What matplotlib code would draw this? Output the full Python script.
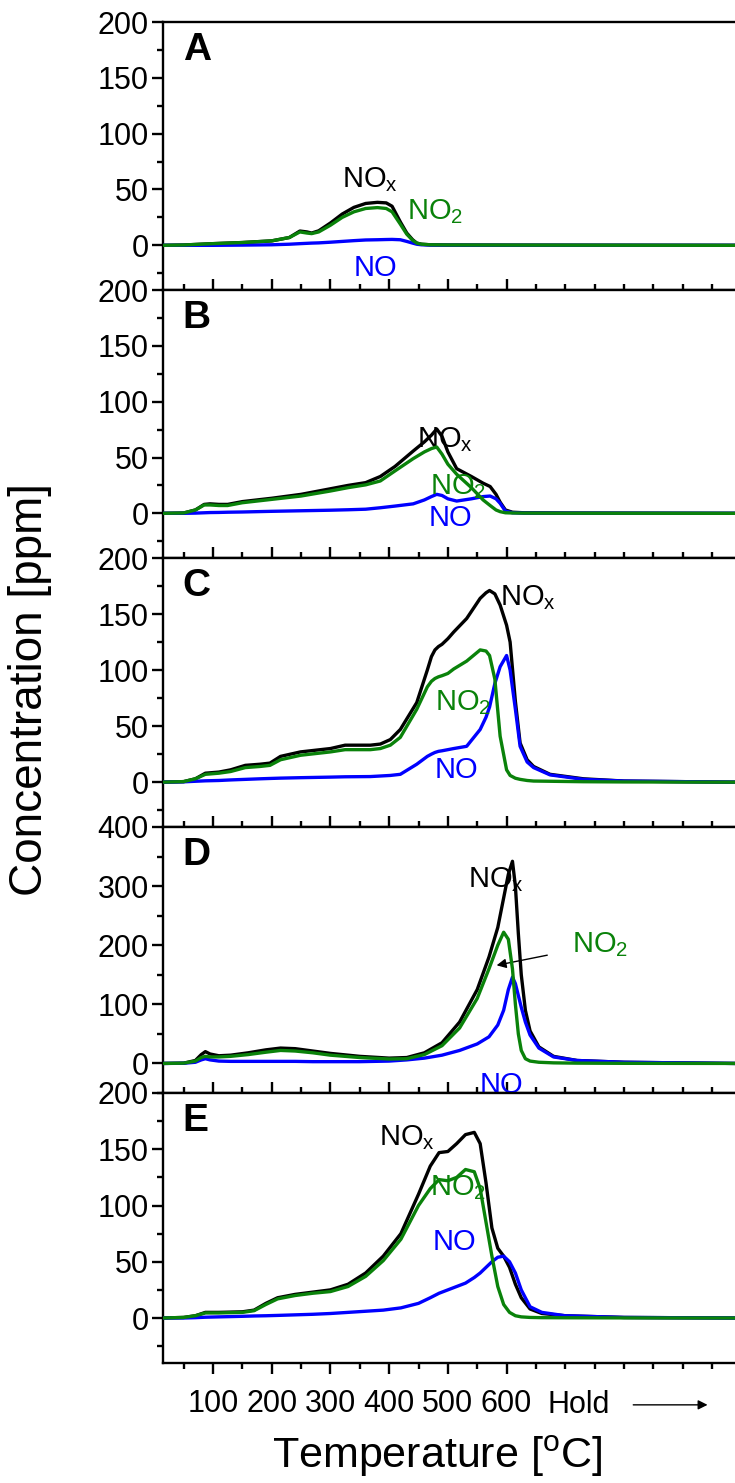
import matplotlib
matplotlib.use("Agg")
import matplotlib.pyplot as plt
import numpy as np

plt.rcParams['font.family'] = ['Liberation Sans', 'DejaVu Sans']
plt.rcParams['mathtext.fontset'] = 'custom'
plt.rcParams['mathtext.rm'] = 'Liberation Sans'
plt.rcParams['mathtext.it'] = 'Liberation Sans'

# ---- Panel A ----
temp_a = [14, 50, 100, 150, 200, 230, 248, 260, 268, 280, 300, 320, 340, 360, 380,
          395, 405, 419, 430, 440, 447, 455, 470, 500, 600, 800, 989]
nox_a = [0, 0.3, 1.5, 2.5, 4, 7, 12.8, 12, 11, 13, 20, 28, 34, 37.5, 38.5,
         38, 35, 21, 11, 5, 2, 1, 0.5, 0.3, 0.2, 0.1, 0]
no2_a = [0, 0.3, 1.5, 2.5, 4, 7, 12, 11, 10.5, 12, 18, 25, 30, 33, 33.8,
         33, 30, 19, 10, 4.5, 2, 1, 0.5, 0.3, 0.2, 0.1, 0]
no_a = [0, 0, 0, 0.2, 0.5, 1, 1.5, 1.8, 2, 2.2, 2.8, 3.5, 4.2, 4.8, 5,
        5.2, 5.3, 5, 3.5, 2, 1, 0.5, 0.2, 0.1, 0, 0, 0]

# ---- Panel B ----
temp_b = [14, 50, 70, 85, 95, 110, 125, 150, 200, 250, 300, 330, 360, 385, 410,
          441, 460, 472, 481, 490, 500, 515, 540, 560, 572, 582, 589, 598, 610,
          630, 700, 989]
nox_b = [0, 0.3, 3, 8, 8.5, 8, 8, 10.5, 13.5, 17, 22, 25, 27.5, 33, 42,
         55.8, 64, 70, 75.5, 69, 55, 40, 33, 27, 24, 17, 10, 3, 1,
         0.5, 0.3, 0]
no2_b = [0, 0.3, 3, 7.5, 7.5, 7, 7, 9.5, 12.5, 15.5, 20, 23, 25.5, 29, 38,
         49, 55, 58, 59.4, 53, 44, 35, 23, 12, 7, 3, 1.5, 0.5, 0.3,
         0.2, 0.1, 0]
no_b = [0, 0, 0.2, 0.5, 0.7, 0.8, 1, 1.2, 1.8, 2.3, 2.8, 3.2, 3.7, 5, 6.5,
        8.5, 12, 15, 17, 16, 13, 11, 13, 15, 15.5, 13, 9, 2, 0.5,
        0.2, 0.1, 0]

# ---- Panel C ----
temp_c = [14, 50, 70, 87, 110, 130, 155, 180, 197, 215, 249, 300, 325, 368, 385,
          402, 419, 447, 465, 472, 478, 484, 490, 500, 510, 532, 555, 565, 571,
          580, 589, 600, 606, 615, 623, 635, 646, 674, 731, 800, 989]
nox_c = [0, 0.5, 3, 8, 9, 11, 15, 16, 17, 23, 27, 30, 33, 33, 34,
         38, 47, 71, 100, 112, 118, 121, 123, 128, 134, 146, 164, 169, 171,
         168, 158, 140, 125, 72, 35, 20, 14, 7, 3, 1, 0]
no2_c = [0, 0.5, 3, 7, 8, 9.5, 13, 14, 15, 20, 24, 27, 29, 29, 30,
         33, 40, 65, 85, 90, 92.5, 94, 95, 97, 101, 108, 118, 117, 113,
         92, 41, 11, 6, 3.5, 2.5, 1.5, 1, 0.8, 0.4, 0.2, 0]
no_c = [0, 0.3, 0.8, 1.2, 1.5, 2, 2.5, 3, 3.3, 3.6, 4, 4.5, 4.8, 5, 5.5,
        6, 7, 16, 23, 25, 26.5, 27.5, 28, 29, 30, 32, 47, 58, 67,
        88, 103, 113, 100, 65, 32, 18, 13, 6.5, 2.5, 1, 0]

# ---- Panel D ----
temp_d = [14, 50, 70, 80, 87, 95, 110, 130, 160, 190, 215, 240, 270, 300, 350,
          400, 430, 460, 490, 520, 550, 570, 585, 595, 603, 610, 615, 620, 625,
          632, 640, 655, 680, 720, 800, 989]
nox_d = [0, 0.5, 5, 15, 20, 16, 13, 14, 18, 23, 26, 25, 21, 17, 12,
         9, 10, 18, 35, 70, 125, 180, 230, 280, 320, 342, 300, 220, 150,
         90, 55, 28, 12, 5, 2, 0]
no2_d = [0, 0.5, 4, 10, 12, 11, 11, 12, 15, 19, 22, 21, 18, 14, 10,
         7.5, 8, 15, 30, 60, 110, 160, 200, 222, 210, 160, 100, 50, 22,
         8, 4, 2, 1, 0.5, 0.2, 0]
no_d = [0, 0.3, 2, 6, 8, 6, 4, 3.5, 3.5, 3.5, 3.5, 3.5, 3, 3, 3,
        4, 6, 9, 14, 22, 33, 45, 65, 90, 125, 146, 135, 115, 95,
        70, 48, 26, 11, 5, 2, 0]

# ---- Panel E ----
temp_e = [14, 50, 70, 87, 110, 150, 170, 190, 210, 240, 270, 300, 330, 360, 390,
          420, 450, 470, 485, 500, 515, 530, 545, 555, 565, 575, 585, 595, 605,
          615, 625, 640, 660, 700, 800, 989]
nox_e = [0, 0.5, 2, 5, 5, 5.5, 7, 13, 18, 21, 23, 25, 30, 40, 55,
         75, 110, 135, 147, 148, 155, 163, 165, 155, 120, 80, 62, 55, 45,
         30, 18, 8, 4, 2, 0.5, 0]
no2_e = [0, 0.5, 2, 4.5, 4.5, 5, 6.5, 12, 17, 20, 22, 23.5, 28, 37, 51,
         70, 100, 115, 123, 122, 125, 132, 130, 115, 85, 55, 28, 12, 5,
         2, 1, 0.5, 0.3, 0.2, 0.1, 0]
no_e = [0, 0, 0.3, 0.7, 1, 1.5, 1.8, 2, 2.3, 2.8, 3.3, 4, 5, 6, 7,
        9, 13, 18, 22, 25, 28, 31, 36, 40, 45, 50, 54, 55, 50,
        40, 25, 10, 5, 2, 0.5, 0]

panels = [
    ("A", temp_a, nox_a, no2_a, no_a, (-40, 200), 50),
    ("B", temp_b, nox_b, no2_b, no_b, (-40, 200), 50),
    ("C", temp_c, nox_c, no2_c, no_c, (-40, 200), 50),
    ("D", temp_d, nox_d, no2_d, no_d, (-50, 400), 100),
    ("E", temp_e, nox_e, no2_e, no_e, (-40, 200), 50),
]

# curve label positions (temperature, concentration) per panel
label_pos = {
    "A": {"nox": (367, 59), "no2": (478, 30), "no": (376, -20)},
    "B": {"nox": (495, 66), "no2": (517, 24), "no": (504, -4)},
    "C": {"nox": (636, 165), "no2": (526, 71), "no": (514, 11)},
    "D": {"nox": (582, 311), "no2": (759, 201), "no": (592, -36)},
    "E": {"nox": (430, 160), "no2": (518, 116), "no": (512, 68)},
}

BLACK = "#000000"
GREEN = "#0a820a"
BLUE = "#0000ff"
LW = 2.4

x_major = [100, 200, 300, 400, 500, 600]
x_minor = [50, 150, 250, 350, 450, 550, 650, 700, 750, 800, 850, 900, 950]
xlim = (14, 989)

fig = plt.figure(figsize=(7.35, 14.83), dpi=100)
H = 1483.0
W = 735.0
left_px = 162.5
bounds = [22, 290, 558, 827, 1093, 1363]

axes = []
for i, (name, t, nox, no2, no, ylim, ystep) in enumerate(panels):
    top, bot = bounds[i], bounds[i + 1]
    ax = fig.add_axes([left_px / W, 1 - bot / H, 1 - left_px / W, (bot - top) / H])
    axes.append(ax)
    ax.plot(t, no, color=BLUE, lw=LW, zorder=3, solid_joinstyle="round")
    ax.plot(t, no2, color=GREEN, lw=LW, zorder=4, solid_joinstyle="round")
    ax.plot(t, nox, color=BLACK, lw=LW, zorder=2, solid_joinstyle="round")
    ax.set_xlim(*xlim)
    ax.set_ylim(*ylim)
    ax.set_yticks(np.arange(0, ylim[1] + 1, ystep))
    ax.set_yticks(np.arange(-ystep / 2, ylim[1], ystep / 2), minor=True)
    ax.set_xticks(x_major)
    ax.set_xticks(x_minor, minor=True)
    for s in ("left", "bottom", "top"):
        ax.spines[s].set_linewidth(1.7)
    ax.spines["right"].set_visible(False)
    ax.tick_params(axis="y", which="major", direction="out", length=8, width=1.7,
                   labelsize=22, pad=2)
    ax.tick_params(axis="y", which="minor", direction="out", length=4.5, width=1.7)
    last = (i == len(panels) - 1)
    ax.tick_params(axis="x", which="major", direction="out" if last else "in",
                   length=8, width=1.7, labelsize=22, pad=11,
                   labelbottom=last)
    ax.tick_params(axis="x", which="minor", direction="out" if last else "in",
                   length=4.5, width=1.7)
    ax.text(0.035, 0.895, name, transform=ax.transAxes, fontsize=28,
            fontweight="bold", ha="left", va="center")

    lp = label_pos[name]
    ax.text(*lp["nox"], r"$\mathregular{NO_x}$", color=BLACK, fontsize=21,
            ha="center", va="center")
    ax.text(*lp["no"], "NO", color=BLUE, fontsize=21, ha="center", va="center")
    if name == "D":
        ax.annotate(r"$\mathregular{NO_2}$", xy=(583, 166), xytext=lp["no2"],
                    color=GREEN, fontsize=21, ha="center", va="center",
                    arrowprops=dict(arrowstyle="-|>", color=BLACK, lw=1.0,
                                    shrinkA=16, shrinkB=0, mutation_scale=14))
    else:
        ax.text(*lp["no2"], r"$\mathregular{NO_2}$", color=GREEN, fontsize=21,
                ha="center", va="center")

ax_e = axes[-1]
ax_e.text(723, -0.155, "Hold", transform=ax_e.get_xaxis_transform(),
          fontsize=22, ha="center", va="center")
ax_e.annotate("", xy=(947, -0.155), xytext=(811, -0.155),
              xycoords=ax_e.get_xaxis_transform(),
              textcoords=ax_e.get_xaxis_transform(),
              arrowprops=dict(arrowstyle="-|>", color=BLACK, lw=1.0,
                              mutation_scale=14), annotation_clip=False)

fig.text(437 / W, 1 - 1456 / H, "Temperature [$\\mathregular{^oC}$]", fontsize=31,
         ha="center", va="center")
fig.text(30 / W, 1 - 690 / H, "Concentration [ppm]", rotation=90, fontsize=33,
         ha="center", va="center")

fig.savefig("out.png", dpi=100)
